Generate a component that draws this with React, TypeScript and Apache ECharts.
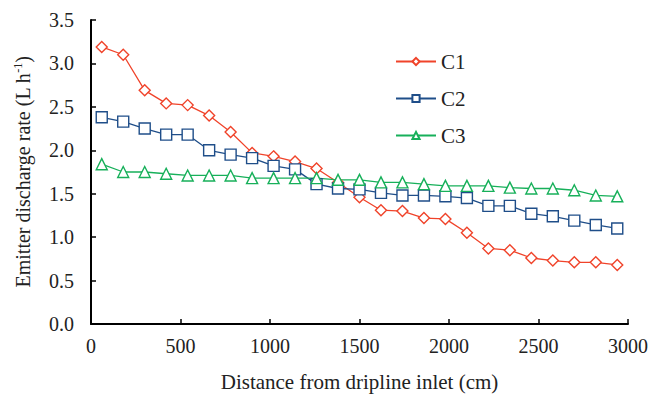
import React, { useEffect, useRef } from "react";
import * as echarts from "echarts";

const distances = [60, 180, 300, 420, 540, 660, 780, 900, 1020, 1140, 1260, 1380, 1500, 1620, 1740, 1860, 1980, 2100, 2220, 2340, 2460, 2580, 2700, 2820, 2940];
const c1 = [3.19, 3.10, 2.69, 2.54, 2.52, 2.40, 2.21, 1.97, 1.93, 1.87, 1.79, 1.63, 1.46, 1.31, 1.30, 1.22, 1.21, 1.05, 0.87, 0.85, 0.76, 0.73, 0.71, 0.71, 0.68];
const c2 = [2.38, 2.33, 2.25, 2.18, 2.18, 2.00, 1.95, 1.91, 1.82, 1.78, 1.61, 1.56, 1.55, 1.51, 1.48, 1.48, 1.47, 1.45, 1.36, 1.36, 1.27, 1.24, 1.19, 1.14, 1.10];
const c3 = [1.84, 1.75, 1.75, 1.73, 1.71, 1.71, 1.71, 1.68, 1.68, 1.68, 1.68, 1.66, 1.66, 1.63, 1.63, 1.61, 1.59, 1.59, 1.59, 1.57, 1.56, 1.56, 1.54, 1.48, 1.47];
const seriesNames = ["C1", "C2", "C3"];

const FONT = "'Liberation Serif', 'Times New Roman', serif";

export default function App() {
  const ref = useRef<HTMLDivElement>(null);
  useEffect(() => {
    const chart = echarts.init(ref.current!, null, { renderer: "svg" });
    const mk = (name: string, vals: number[], color: string, symbol: string, size: number) => ({
      name,
      type: "line",
      data: distances.map((d, i) => [d, vals[i]]),
      symbol,
      symbolSize: size,
      showAllSymbol: true,
      lineStyle: { color, width: 1.3 },
      itemStyle: { color: "#fff", borderColor: color, borderWidth: 1.4 },
      emphasis: { disabled: true },
    });
    chart.setOption({
      animation: false,
      backgroundColor: "#fff",
      textStyle: { fontFamily: FONT },
      grid: { left: 91, right: 25, top: 20, bottom: 66, containLabel: false },
      legend: {
        orient: "vertical",
        left: 390,
        top: 45,
        itemWidth: 40,
        itemHeight: 9,
        itemGap: 14,
        textStyle: { fontFamily: FONT, fontSize: 21, color: "#222", lineHeight: 23 },
        data: seriesNames,
      },
      xAxis: {
        type: "value",
        min: 0,
        max: 3000,
        interval: 500,
        name: "Distance from dripline inlet (cm)",
        nameLocation: "middle",
        nameGap: 47,
        nameTextStyle: { fontFamily: FONT, fontSize: 21, color: "#222" },
        axisLine: { lineStyle: { color: "#000", width: 2 } },
        axisTick: { inside: true, length: 5, lineStyle: { color: "#000", width: 1.5 } },
        axisLabel: { fontFamily: FONT, fontSize: 20, color: "#222", margin: 12, formatter: (v: number) => String(v) },
        splitLine: { show: false },
      },
      yAxis: {
        type: "value",
        min: 0,
        max: 3.5,
        interval: 0.5,
        name: "{n|Emitter discharge rate (L h}{s|-1}{n|)}",
        nameLocation: "middle",
        nameGap: 57,
        nameTextStyle: {
          fontFamily: FONT,
          color: "#222",
          rich: {
            n: { fontFamily: FONT, fontSize: 20, color: "#222" },
            s: { fontFamily: FONT, fontSize: 12, color: "#222", verticalAlign: "top", padding: [0, 0, 10, 0] },
          },
        },
        axisLine: { show: true, lineStyle: { color: "#000", width: 2 } },
        axisTick: { show: true, inside: true, length: 5, lineStyle: { color: "#000", width: 1.5 } },
        axisLabel: {
          fontFamily: FONT,
          fontSize: 20,
          color: "#222",
          margin: 17,
          formatter: (v: number) => v.toFixed(1),
        },
        splitLine: { show: false },
      },
      series: [
        mk("C1", c1, "#F0432A", "diamond", 11),
        mk("C2", c2, "#1F4E89", "rect", 11),
        mk("C3", c3, "#17B05A", "triangle", 11),
      ],
    });
    return () => chart.dispose();
  }, []);
  return <div ref={ref} style={{ width: 653, height: 397, position: "absolute", left: 0, top: 0 }} />;
}
